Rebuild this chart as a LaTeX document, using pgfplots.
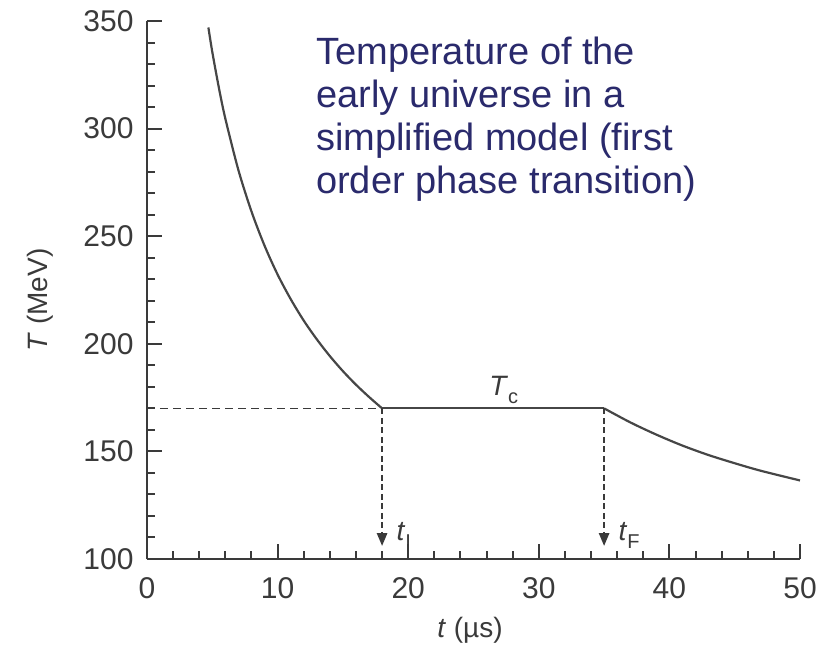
\documentclass[border=0pt]{standalone}
\usepackage{fontspec}
\setmainfont{Liberation Sans}
\usepackage{pgfplots}
\pgfplotsset{compat=1.18}
\usetikzlibrary{arrows.meta}

\definecolor{titleblue}{RGB}{42,42,108}
\definecolor{ink}{RGB}{58,58,58}
\definecolor{curve}{RGB}{70,70,70}

\begin{document}
\begin{tikzpicture}
\path[use as bounding box] (0,0) rectangle (825pt,654pt);

\begin{axis}[
  at={(147pt,95pt)}, anchor=south west,
  scale only axis, width=653pt, height=538pt,
  xmin=0, xmax=50, ymin=100, ymax=350,
  axis lines=left,
  axis line style={-, line width=2pt, color=ink},
  tick align=inside,
  xtick={0,10,...,50}, ytick={100,150,...,350},
  minor x tick num=4, minor y tick num=4,
  major tick length=15pt, minor tick length=8pt,
  every tick/.style={line width=2pt, color=ink},
  /pgf/number format/assume math mode=true,
  ticklabel style={font=\fontsize{30}{36}\selectfont, text=ink},
  xticklabel style={yshift=-15pt},
  yticklabel style={xshift=-10pt},
  xlabel={\textit{t} (µs)},
  ylabel={\textit{T} (MeV)},
  label style={font=\fontsize{28}{34}\selectfont, text=ink},
  xlabel style={at={(axis description cs:0.4946,0)}, anchor=center, yshift=-71pt},
  ylabel style={at={(axis description cs:-0.1639,0.4814)}, anchor=center},
  clip=false,
]

% cooling before the transition, T ~ t^(-1/2)
\addplot[curve, line width=2.2pt, smooth] coordinates {
  (4.7,347) (5,335.6) (5.5,319.1) (6,304.6) (7,280.7) (8,261.5)
  (9,245.6) (10,232.2) (11,220.8) (12,210.8) (13,202.1) (14,194.3)
  (15,187.3) (16,181.0) (17,175.3) (18,170)
};
% mixed phase at the critical temperature
\addplot[curve, line width=2.2pt] coordinates {(18,170) (35,170)};
% cooling after the transition
\addplot[curve, line width=2.2pt, smooth] coordinates {
  (35,170) (37,163.5) (39,157.8) (41,152.7) (43,148.3) (45,144.5) (47,141) (50,136.5)
};

% guide lines
\addplot[ink, line width=1.6pt, dash pattern=on 8pt off 5pt] coordinates {(0,170) (18,170)};
\addplot[ink, line width=2.6pt, dash pattern=on 6pt off 3.5pt,
  -{Triangle[length=13pt,width=10pt]}] coordinates {(18,170) (18,106)};
\addplot[ink, line width=2.6pt, dash pattern=on 6pt off 3.5pt,
  -{Triangle[length=13pt,width=10pt]}] coordinates {(35,170) (35,106)};

\node[anchor=base west, inner sep=0, text=ink, font=\fontsize{28}{34}\selectfont]
  at (axis cs:26.2,176.2) {\textit{T}\raisebox{-0.3em}{\fontsize{20}{20}\selectfont c}};
\node[anchor=base west, inner sep=0, text=ink, font=\fontsize{28}{34}\selectfont]
  at (axis cs:19.1,108.8) {\textit{t}\raisebox{-0.3em}{\fontsize{20}{20}\selectfont I}};
\node[anchor=base west, inner sep=0, text=ink, font=\fontsize{28}{34}\selectfont]
  at (axis cs:36.1,108.8) {\textit{t}\raisebox{-0.3em}{\fontsize{20}{20}\selectfont F}};
\end{axis}

\begin{scope}[every node/.style={anchor=base west, inner sep=0, text=titleblue,
    font=\fontsize{38}{43}\selectfont}]
  \node at (316pt,589pt) {Temperature of the};
  \node at (316pt,546pt) {early universe in a};
  \node at (316pt,503pt) {simplified model (first};
  \node at (316pt,460pt) {order phase transition)};
\end{scope}
\end{tikzpicture}
\end{document}
